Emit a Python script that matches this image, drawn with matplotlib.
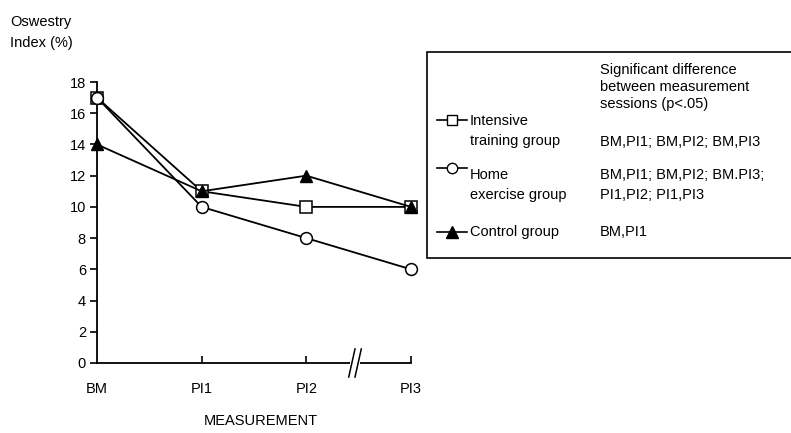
import matplotlib
matplotlib.use("Agg")
import matplotlib.pyplot as plt
from matplotlib.lines import Line2D
from matplotlib.patches import Rectangle

plt.rcParams['font.family'] = ['Liberation Sans', 'DejaVu Sans']

sessions = ["BM", "PI1", "PI2", "PI3"]
intensive = [17, 11, 10, 10]
home = [17, 10, 8, 6]
control = [14, 11, 12, 10]
yticks = [0, 2, 4, 6, 8, 10, 12, 14, 16, 18]

group_names = ["Intensive\ntraining group", "Home\nexercise group", "Control group"]
group_diffs = ["BM,PI1; BM,PI2; BM,PI3",
               "BM,PI1; BM,PI2; BM.PI3;\nPI1,PI2; PI1,PI3",
               "BM,PI1"]

W, H = 791, 433
fig = plt.figure(figsize=(W / 100, H / 100), dpi=100)

def fx(px):
    return px / W

def fy(py):
    return 1 - py / H

ax = fig.add_axes([fx(97), fy(363), fx(411) - fx(97), fy(82) - fy(363)])
x = list(range(len(sessions)))

lw = 1.3
ax.plot(x, intensive, color='black', lw=lw, marker='s', ms=8, mfc='white', mec='black', mew=1.1,
        clip_on=False, zorder=3)
ax.plot(x, home, color='black', lw=lw, marker='o', ms=8.5, mfc='white', mec='black', mew=1.1,
        clip_on=False, zorder=4)
ax.plot(x, control, color='black', lw=lw, marker='^', ms=8.5, mfc='black', mec='black',
        clip_on=False, zorder=5)

ax.set_xlim(0, 3)
ax.set_ylim(0, 18)
ax.set_yticks(yticks)
ax.set_xticks(x)
ax.set_xticklabels(sessions)
for s in ['top', 'right']:
    ax.spines[s].set_visible(False)
for s in ['left', 'bottom']:
    ax.spines[s].set_linewidth(1.3)
ax.tick_params(axis='y', direction='out', length=5, width=1.2, labelsize=10.5, pad=3)
ax.tick_params(axis='x', direction='in', length=5, width=1.2, labelsize=10.5, pad=14)
ax.xaxis.get_major_ticks()[0].tick1line.set_visible(False)

# break marks on the x axis
bx = 2.465
ax.add_patch(Rectangle((bx - 0.045, -0.3), 0.09, 0.6, transform=ax.transData,
                       facecolor='white', edgecolor='none', clip_on=False, zorder=6))
for dx in (-0.03, 0.03):
    ax.plot([bx + dx - 0.03, bx + dx + 0.03], [-0.9, 0.9], color='black', lw=1.1,
            clip_on=False, zorder=7)

fig.text(fx(10), fy(22), "Oswestry", fontsize=10.5, va='center', ha='left')
fig.text(fx(10), fy(43), "Index (%)", fontsize=10.5, va='center', ha='left')
fig.text(fx(261), fy(421), "MEASUREMENT", fontsize=10.5, va='center', ha='center')

# key box
box = Rectangle((fx(427), fy(258)), fx(800) - fx(427), fy(52) - fy(258),
                transform=fig.transFigure, facecolor='white', edgecolor='black', lw=1.2)
fig.add_artist(box)

fig.text(fx(600), fy(87), "Significant difference\nbetween measurement\nsessions (p<.05)",
         fontsize=10.5, va='center', ha='left', linespacing=1.25)

markers = [('s', 'white', 7), ('o', 'white', 7.5), ('^', 'black', 8)]
rows = [(120, 142), (168, 202), (232, 232)]
for (mk, fc, ms), (y1, y2), name, diff in zip(markers, rows, group_names, group_diffs):
    fig.add_artist(Line2D([fx(437), fx(467)], [fy(y1), fy(y1)], transform=fig.transFigure,
                          color='black', lw=1.2))
    fig.add_artist(Line2D([fx(452)], [fy(y1)], transform=fig.transFigure, marker=mk,
                          ms=ms, mfc=fc, mec='black', mew=1.0, lw=0))
    fig.text(fx(470), fy((y1 + y2) / 2), name, fontsize=10.5, va='center', ha='left',
             linespacing=1.6)
    if '\n' in diff:
        fig.text(fx(600), fy((y1 + y2) / 2), diff, fontsize=10.5, va='center', ha='left',
                 linespacing=1.6)
    else:
        fig.text(fx(600), fy(y2), diff, fontsize=10.5, va='center', ha='left')

fig.savefig("out.png", dpi=100)
